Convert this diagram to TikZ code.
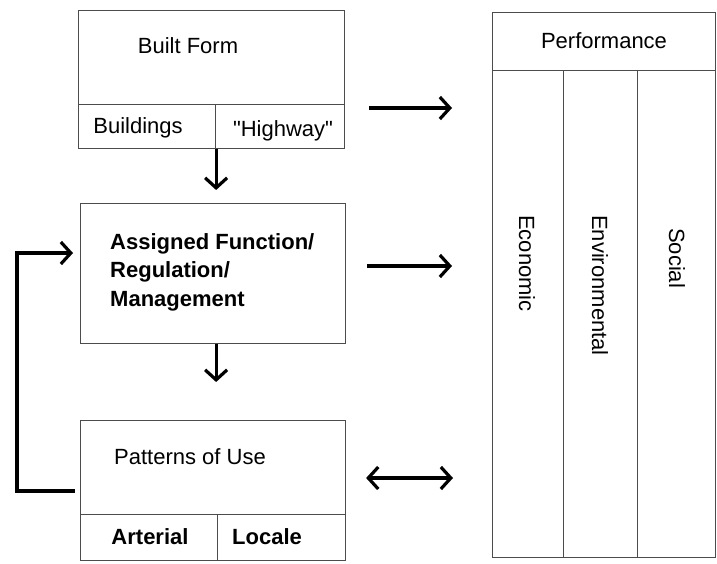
\documentclass[tikz,border=0pt]{standalone}
\usepackage{fontspec}
\setmainfont{Liberation Sans}[Ligatures=TeXOff]
\usetikzlibrary{arrows.meta}
\begin{document}
\begin{tikzpicture}[x=1pt,y=-1pt,
  cell/.style={draw=black!70,line width=1.1pt,inner sep=0pt,anchor=north west},
  txt/.style={inner sep=0pt,font=\fontsize{22}{26}\selectfont},
  btxt/.style={inner sep=0pt,font=\fontsize{22}{28.5}\selectfont\bfseries},
  vtxt/.style={inner sep=0pt,rotate=-90,anchor=west,font=\fontsize{22}{26}\selectfont},
  arr/.style={line width=3.2pt,-{Straight Barb[length=10pt,width=22pt]}},
  darr/.style={line width=3.2pt,{Straight Barb[length=10pt,width=22pt]}-{Straight Barb[length=10pt,width=22pt]}}]
\useasboundingbox (0,0) rectangle (717,563);

% Built form
\node[cell,minimum width=266pt,minimum height=94pt] (bftop) at (78,10) {};
\node[cell,minimum width=137pt,minimum height=44pt] (bld) at (78,104) {};
\node[cell,minimum width=129pt,minimum height=44pt] (hwy) at (215,104) {};
\node[txt] (bft) at (188,46) {Built Form};
\node[txt] (bldt) at (138,128) {Buildings};
\node[txt] (hwyt) at (283,131) {"Highway"};

% Assigned function
\node[cell,minimum width=265pt,minimum height=140pt] (af) at (80,203) {};
\node[btxt,align=left,anchor=west] (aft) at (110,272) {Assigned Function/\\Regulation/\\Management};

% Patterns of use
\node[cell,minimum width=265pt,minimum height=94pt] (putop) at (80,420) {};
\node[cell,minimum width=137pt,minimum height=46pt] (art) at (80,514) {};
\node[cell,minimum width=128pt,minimum height=46pt] (loc) at (217,514) {};
\node[txt] (put) at (190,457) {Patterns of Use};
\node[txt,font=\fontsize{22}{26}\selectfont\bfseries] (artt) at (150,537) {Arterial};
\node[txt,font=\fontsize{22}{26}\selectfont\bfseries] (loct) at (267,537) {Locale};

% Performance
\node[cell,minimum width=223pt,minimum height=58pt] (perf) at (492,12) {};
\node[cell,minimum width=71pt,minimum height=487pt] (eco) at (492,70) {};
\node[cell,minimum width=74pt,minimum height=487pt] (env) at (563,70) {};
\node[cell,minimum width=78pt,minimum height=487pt] (soc) at (637,70) {};
\node[txt] (perft) at (604,41) {Performance};
\node[vtxt] (ecot) at (527,215) {Economic};
\node[vtxt] (envt) at (600,215) {Environmental};
\node[vtxt] (soct) at (677,228) {Social};

% Vertical flow
\draw[arr,shorten >=13pt] (bld.south east) -- (bld.south east |- af.north);
\draw[arr,shorten >=38pt] (af.south -| bld.east) -- (bld.east |- putop.north);

% Feedback loop
\coordinate (fb) at (17,491);
\draw[arr,shorten >=7pt] ([xshift=-5pt]putop.west |- fb) -- (fb) |- (af.west |- 0,253);

% Links to performance
\draw[arr,shorten >=40pt] ([xshift=24pt]bftop.east |- 0,108) -- (eco.west |- 0,108);
\draw[arr,shorten >=40pt] ([xshift=21pt]af.east |- 0,266) -- (eco.west |- 0,266);
\draw[darr,shorten >=39pt] ([xshift=20pt]putop.east |- 0,478) -- (eco.west |- 0,478);
\end{tikzpicture}
\end{document}
